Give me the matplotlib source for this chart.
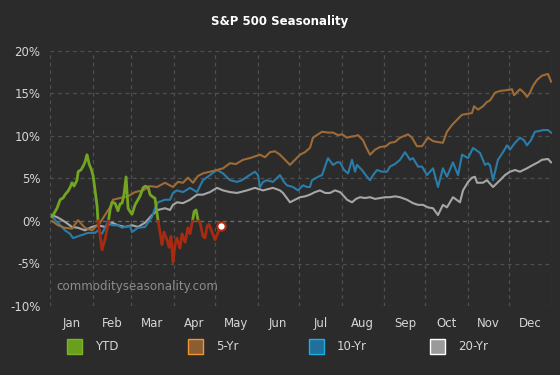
import matplotlib.pyplot as plt
import numpy as np
from matplotlib.patches import Rectangle

# Day of year (0 = Jan 1) and cumulative % change
five_days = [1.5, 5.8, 10.9, 16, 20.4, 25.4, 30.5, 36.4, 40, 43.6, 45.8, 50.9, 56.7, 61.8, 67.6,
             72.7, 77.8, 83.6, 89.4, 93.1, 96.7, 100.3, 104, 107.6, 111.2, 116.3, 121.4, 125.8,
             130.9, 135.2, 140.3, 145.4, 149, 152.7, 156.3, 160, 163.6, 167.2, 170.9, 174.5,
             178.1, 181.8, 185.4, 189, 191.2, 194.9, 197.8, 202.1, 205.8, 209.4, 212.3, 216,
             218.1, 221.8, 224, 227.6, 229.8, 232.7, 236.4, 240, 244.3, 247.2, 250.8, 254.5,
             257.4, 260.3, 263.2, 266.8, 270.5, 274.8, 278.5, 281.4, 285.7, 288.6, 292.3, 295.9,
             299.6, 303.2, 306.8, 308.3, 311.2, 314.8, 317.7, 320, 323.6, 327.2, 332.3, 335.9,
             337.4, 341.7, 344.6, 346.8, 349, 351.2, 354.1, 357.7, 362.1, 364.3]
five_pct = [0.0, -0.5, -0.8, -0.9, 0.1, -0.8, -1.1, -0.2, 0.7, 1.6, 2.5, 2.7, 2.9, 3.4, 3.6,
            4.1, 4.0, 4.5, 4.0, 4.6, 4.5, 5.1, 4.5, 5.3, 5.6, 5.8, 6.0, 6.2,
            6.8, 6.7, 7.2, 7.4, 7.6, 7.8, 7.5, 8.1, 8.2, 7.8, 7.2, 6.6,
            7.2, 7.8, 8.1, 8.6, 9.8, 10.2, 10.5, 10.4, 10.4, 10.1, 10.2, 9.8,
            9.9, 10.0, 10.1, 9.5, 8.7, 7.8, 8.4, 8.7, 8.8, 9.2, 9.3, 9.8,
            10.0, 10.2, 9.8, 8.8, 8.8, 9.8, 9.4, 9.3, 9.2, 10.5, 11.3, 11.9,
            12.5, 12.6, 12.7, 13.5, 13.1, 13.5, 14.0, 14.2, 15.1, 15.3, 15.4, 15.5,
            14.8, 15.5, 15.1, 14.6, 15.1, 15.9, 16.6, 17.1, 17.3, 16.4]

ten_days = [1.5, 5.8, 10.9, 14.5, 16.7, 20.4, 24, 27.6, 32.7, 34.9, 37.8, 40, 42.2, 45.1, 49.4,
            52.4, 54.5, 58.2, 59.6, 64, 69.1, 74.2, 76.3, 78.5, 83.6, 87.3, 89.4, 92.3, 96.7,
            101.8, 106.9, 111.2, 116.3, 121.4, 125.8, 130.9, 136, 139.6, 143.2, 149, 151.2,
            152.7, 154.9, 157.8, 162.1, 167.2, 170.1, 172.3, 176.7, 180.3, 184, 186.9, 189,
            190.5, 194.9, 197.8, 202.1, 205.8, 208.7, 210.9, 213.8, 216.7, 219.6, 221.8, 223.2,
            226.8, 230.5, 232.7, 234.9, 237.8, 241.4, 245, 247.2, 250.8, 254.5, 258.1, 261.8,
            263.9, 267.6, 270.5, 274.1, 278.5, 282.1, 285.7, 288.6, 293, 296.7, 299.6, 304,
            307.6, 312.7, 316.3, 318.5, 320, 322.1, 325.7, 329.4, 332.3, 334.5, 338.1, 341.7,
            344.6, 346.8, 349.7, 352.6, 356.3, 358.5, 362.1, 364.3]
ten_pct = [0.5, -0.2, -1.1, -1.5, -2.0, -1.8, -1.6, -1.4, -1.4, -1.1, -1.5, -0.8, -0.1, -0.5, -0.5,
           -0.8, -0.7, -0.6, -1.3, -0.8, -0.7, 0.5, 1.5, 2.2, 2.5, 2.5, 3.3, 3.6, 3.4,
           3.9, 3.4, 4.8, 5.4, 6.0, 5.6, 4.8, 4.6, 4.8, 5.2, 5.8, 5.4,
           4.0, 4.6, 4.8, 4.6, 5.4, 4.6, 4.2, 4.0, 3.6, 4.2, 4.0, 4.0,
           4.8, 5.2, 5.4, 7.4, 6.6, 6.9, 6.9, 6.0, 5.6, 7.2, 5.8, 6.6,
           6.0, 5.2, 4.8, 5.4, 6.0, 5.8, 5.8, 6.4, 6.7, 7.2, 8.1, 7.2,
           7.4, 6.4, 6.4, 5.4, 6.2, 4.0, 6.2, 5.2, 6.9, 5.4, 7.8, 7.4,
           8.6, 8.0, 6.6, 6.8, 6.5, 4.8, 7.2, 8.1, 8.9, 8.4, 9.2, 9.8,
           9.5, 8.9, 9.5, 10.5, 10.6, 10.7, 10.7, 10.4]

twenty_days = [1.5, 5.8, 10.9, 16, 20.4, 25.4, 30.5, 34.9, 40, 45.1, 49.4, 54.5, 59.6, 64, 69.1,
               74.2, 78.5, 83.6, 87.3, 89.4, 92.3, 96.7, 101.8, 106.9, 111.2, 116.3, 121.4,
               125.8, 130.9, 136, 143.2, 149, 154.9, 162.1, 167.2, 169.4, 174.5, 178.1, 181.8,
               185.4, 189, 192.7, 196.3, 200, 203.6, 207.2, 210.9, 213.8, 216, 219.6, 222.5,
               225.4, 229, 232.7, 236.4, 240, 243.6, 247.2, 250.8, 254.5, 259.6, 263.9, 267.6,
               271.2, 274.8, 278.5, 282.1, 285.7, 288.6, 293, 298.1, 300.3, 304, 306.8, 309,
               310.5, 314.8, 317.7, 322.1, 327.2, 330.8, 334.5, 338.1, 341.7, 346.8, 351.2,
               354.8, 357.7, 362.1, 364.3]
twenty_pct = [0.7, 0.4, -0.1, -0.7, -0.8, -1.1, -0.7, -0.5, -0.7, -0.2, -0.5, -0.7, -0.5, -0.7, -0.2,
              0.7, 1.3, 1.5, 1.3, 1.9, 2.2, 2.1, 2.5, 3.1, 3.1, 3.4, 3.9,
              3.6, 3.4, 3.3, 3.6, 3.9, 3.6, 3.9, 3.6, 3.3, 2.2, 2.5, 2.8,
              2.9, 3.1, 3.4, 3.6, 3.3, 3.3, 3.6, 3.4, 2.9, 2.5, 2.2, 2.6,
              2.8, 2.7, 2.8, 2.6, 2.7, 2.8, 2.8, 2.9, 2.8, 2.5, 2.1, 1.9,
              1.9, 1.6, 1.5, 0.7, 1.9, 1.6, 2.8, 2.2, 3.6, 4.6, 5.1, 5.2,
              4.5, 4.5, 4.8, 4.0, 4.8, 5.4, 5.8, 6.0, 5.8, 6.2, 6.6,
              6.9, 7.2, 7.3, 6.9]

ytd_days = [1.5, 3.6, 5.1, 7.3, 9.5, 10.9, 13.1, 14.5, 16, 17.5, 19.6, 20.4, 22.5, 24, 25.4,
            26.9, 28.4, 29.8, 31.3, 32.7, 34.2, 34.9, 36.4, 37.8, 40, 42.2, 43.6, 45.1, 47.3,
            49.4, 50.9, 52.4, 53.8, 55.3, 56.7, 58.2, 59.6, 61.8, 64, 65.4, 67.6, 69.1, 71.3,
            72.7, 74.9, 76.3, 78.5, 80, 81.4, 82.9, 85.1, 86.5, 88, 89.4, 90.9, 92.3, 94.5,
            96, 98.2, 100.3, 101.8, 103.2, 104.7, 106.2, 107.6, 109.1, 111.2, 112.7, 114.2,
            115.6, 117.8, 120, 122.2, 124.3]
ytd_pct = [0.5, 1.1, 1.5, 2.5, 2.7, 3.1, 3.5, 3.9, 4.5, 4.1, 4.8, 5.8, 6.0, 6.4, 6.9,
           7.8, 6.7, 6.2, 5.4, 3.6, 1.9, 0.0, -1.6, -3.4, -2.2, -0.4, 1.3, 2.2, 2.1,
           1.2, 2.0, 2.1, 3.1, 5.2, 1.5, 1.1, 0.8, 1.9, 2.5, 2.9, 3.9, 4.1, 4.0,
           3.1, 2.8, 2.7, 0.1, -1.3, -2.8, -1.3, -2.2, -3.1, -1.8, -4.9, -2.8, -2.0, -3.2,
           -1.5, -2.5, -0.8, -1.5, -0.4, 1.1, 1.3, 0.1, -0.2, -1.8, -2.0, -0.6,
           -0.4, -1.3, -2.2, -1.3, -0.6]

months = ["Jan", "Feb", "Mar", "Apr", "May", "Jun", "Jul", "Aug", "Sep", "Oct", "Nov", "Dec"]
month_len = [31, 28, 31, 30, 31, 30, 31, 31, 30, 31, 30, 31]
yticks = [-10, -5, 0, 5, 10, 15, 20]

legend_labels = ["YTD", "5-Yr", "10-Yr", "20-Yr"]
legend_fill = ["#6a9f1e", "#8a5d33", "#20709a", "#9a9a9a"]
legend_edge = ["#78b526", "#f0962e", "#19aee8", "#ffffff"]

BG = "#2b2b2b"
GRID = "#4f4f4f"
TXT = "#d6d6d6"

fig = plt.figure(figsize=(5.6, 3.75), dpi=100, facecolor=BG)
ax = fig.add_axes([50 / 560, 1 - 306 / 375, 502 / 560, 255 / 375])
ax.set_facecolor(BG)

ax.plot(twenty_days, twenty_pct, color="#a6a6a6", lw=1.5, zorder=3)
ax.plot(ten_days, ten_pct, color="#2a7ca9", lw=1.5, zorder=3)
ax.plot(five_days, five_pct, color="#9e6b36", lw=1.5, zorder=3)

# YTD line: green above zero, red below
xf = np.linspace(ytd_days[0], ytd_days[-1], 3000)
yf = np.interp(xf, ytd_days, ytd_pct)
ax.plot(xf, np.where(yf >= 0, yf, np.nan), color="#72a622", lw=2, zorder=4)
ax.plot(xf, np.where(yf <= 0, yf, np.nan), color="#a82a10", lw=2, zorder=4)
ax.plot(ytd_days[-1], ytd_pct[-1], "o", ms=6, mfc="white", mec="#b82a10", mew=1.5, zorder=5)

starts = np.concatenate([[0], np.cumsum(month_len)])
mids = starts[:-1] + np.array(month_len) / 2
ax.set_xlim(0, 365)
ax.set_ylim(-10, 20)
ax.set_xticks(starts)
ax.set_xticklabels([])
ax.set_xticks(mids, minor=True)
ax.set_xticklabels(months, minor=True)
ax.set_yticks(yticks)
ax.set_yticklabels([f"{v}%" for v in yticks])
ax.tick_params(which="both", length=0, colors=TXT, labelsize=8.5)
ax.tick_params(axis="x", which="minor", pad=8)
ax.tick_params(axis="y", pad=7)
ax.grid(True, which="major", color=GRID, ls=(0, (3, 3)), lw=0.9)
ax.axhline(0, color="#6a6a6a", ls=(0, (3, 3)), lw=0.9, zorder=2)
for s in ax.spines.values():
    s.set_visible(False)

ax.text(0.012, 0.05, "commodityseasonality.com", transform=ax.transAxes,
        color="#8c8c8c", fontsize=8.6, va="bottom", zorder=6)

fig.text(0.5, 1 - 22 / 375, "S&P 500 Seasonality", color="white", fontsize=8.5,
         fontweight="bold", ha="center", va="center")

# legend row
for i, (lab, fc, ec) in enumerate(zip(legend_labels, legend_fill, legend_edge)):
    x0 = (67 + i * 121) / 560
    fig.add_artist(Rectangle((x0, 1 - 354 / 375), 15 / 560, 15 / 375, transform=fig.transFigure,
                             facecolor=fc, edgecolor=ec, lw=1))
    fig.text(x0 + 28 / 560, 1 - 346 / 375, lab, color=TXT, fontsize=8.5, va="center")

fig.savefig("out.png", dpi=100, facecolor=BG)
